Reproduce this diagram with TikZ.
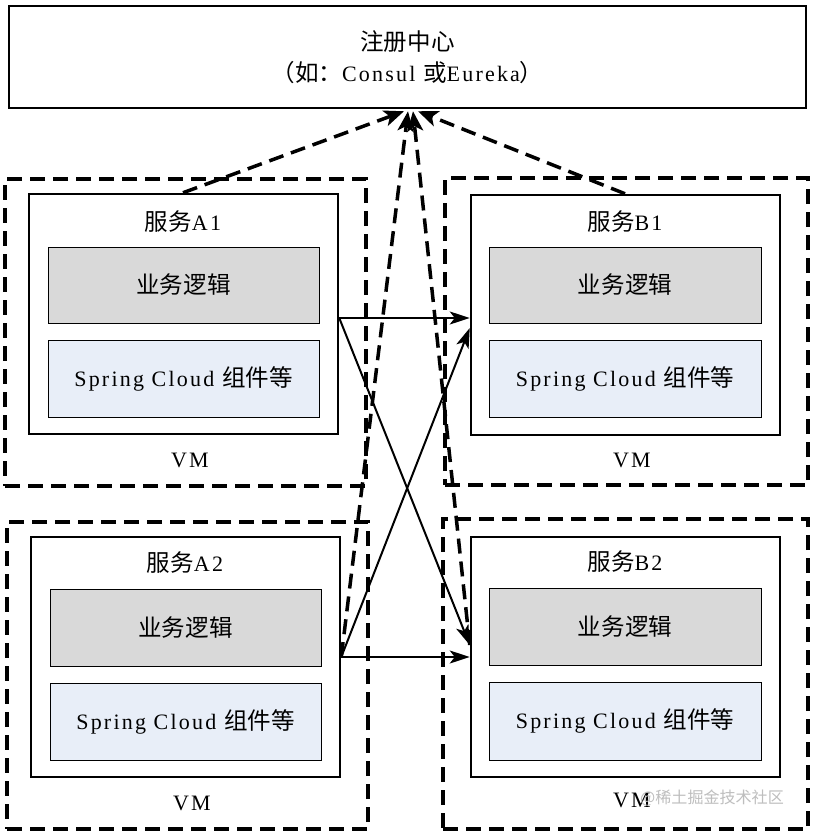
\documentclass[tikz,border=0pt]{standalone}
\usepackage{fontspec}
\setmainfont{Liberation Serif}[LetterSpace=10]
\newfontfamily\cjk{Noto Sans CJK SC}[Scale=1.07]
\usetikzlibrary{arrows.meta,calc}
\newcommand{\zh}[1]{{\cjk #1}}
\definecolor{bizgray}{RGB}{217,217,217}
\definecolor{scblue}{RGB}{232,238,248}
\definecolor{wmgray}{RGB}{190,190,190}
\begin{document}
\begin{tikzpicture}[x=1pt,y=-1pt,
  every node/.style={font=\fontsize{22}{26}\selectfont},
  vmbox/.style={draw, line width=3.5pt, dash pattern=on 15pt off 8pt, inner sep=0pt},
  svcbox/.style={draw, line width=2.5pt, fill=white, inner sep=0pt},
  bizbox/.style={draw, line width=0.8pt, fill=bizgray, inner sep=0pt},
  scbox/.style={draw, line width=0.8pt, fill=scblue, inner sep=0pt},
  lbl/.style={inner sep=0pt},
  callarrow/.style={line width=2pt, -{Stealth[length=20pt,width=13pt,inset=5pt]}},
  regarrow/.style={line width=3.5pt, dash pattern=on 15pt off 8pt, -{Stealth[length=20pt,width=16pt,inset=5pt]}}
]
\useasboundingbox (0,0) rectangle (814,832);
\fill[white] (0,0) rectangle (814,832);

% registry
\node[svcbox, minimum width=797pt, minimum height=102pt, align=center,
  font=\fontsize{22}{31}\selectfont] (reg) at (407.5,57)
  {\zh{注册中心}\\\zh{（如：}Consul \zh{或}Eureka\zh{）}};

% VM boxes
\node[vmbox, minimum width=361pt, minimum height=307pt] (vmA1) at (185.5,332.5) {};
\node[vmbox, minimum width=363pt, minimum height=307pt] (vmB1) at (626.5,331.5) {};
\node[vmbox, minimum width=361pt, minimum height=307pt] (vmA2) at (187.5,675.5) {};
\node[vmbox, minimum width=365pt, minimum height=310pt] (vmB2) at (625.5,674) {};

% service boxes
\node[svcbox, minimum width=309pt, minimum height=240pt] (A1) at (183.5,314) {};
\node[svcbox, minimum width=309pt, minimum height=240pt] (B1) at (625.5,315) {};
\node[svcbox, minimum width=309pt, minimum height=240pt] (A2) at (185.5,657) {};
\node[svcbox, minimum width=309pt, minimum height=240pt] (B2) at (625.5,657) {};

% inner boxes
\node[bizbox, minimum width=271pt, minimum height=76pt] (bizA1) at (183.5,285) {\zh{业务逻辑}};
\node[scbox, minimum width=271pt, minimum height=77pt] (scA1) at (183.5,378.5) {Spring Cloud \zh{组件等}};
\node[bizbox, minimum width=272pt, minimum height=76pt] (bizB1) at (625,285) {\zh{业务逻辑}};
\node[scbox, minimum width=272pt, minimum height=77pt] (scB1) at (625,378.5) {Spring Cloud \zh{组件等}};
\node[bizbox, minimum width=271pt, minimum height=77pt] (bizA2) at (185.5,627.5) {\zh{业务逻辑}};
\node[scbox, minimum width=271pt, minimum height=77pt] (scA2) at (185.5,721.5) {Spring Cloud \zh{组件等}};
\node[bizbox, minimum width=272pt, minimum height=77pt] (bizB2) at (625,626.5) {\zh{业务逻辑}};
\node[scbox, minimum width=272pt, minimum height=78pt] (scB2) at (625,721) {Spring Cloud \zh{组件等}};

% titles
\node[lbl] (tA1) at (183,222) {\zh{服务}A1};
\node[lbl] (tB1) at (625,222) {\zh{服务}B1};
\node[lbl] (tA2) at (185,563) {\zh{服务}A2};
\node[lbl] (tB2) at (625,562) {\zh{服务}B2};

% VM labels
\node[lbl] (lA1) at (190,460) {VM};
\node[lbl] (lB1) at (632,460) {VM};
\node[lbl] (lA2) at (192,803) {VM};
\node[lbl] (lB2) at (632,800) {VM};

% connection points
\coordinate (a1o) at ($(A1.east)+(0,4)$);
\coordinate (a2o) at (A2.east);
\coordinate (b1i) at ($(B1.west)+(0,3)$);
\coordinate (b1i2) at ($(B1.west)+(0,13)$);
\coordinate (b2i) at (B2.west);
\coordinate (b2i2) at ($(B2.west)+(0,-12)$);
\coordinate (a1top) at (A1.north -| 183,0);
\coordinate (b1top) at (B1.north -| 625,0);
\coordinate (regL) at ($(reg.south)+(-3.5,2)$);
\coordinate (regR) at ($(reg.south)+(10.5,2)$);
\coordinate (regM1) at ($(reg.south)+(0.5,2)$);
\coordinate (regM2) at ($(reg.south)+(5.5,2)$);

% calls
\draw[callarrow] (a1o) -- (b1i);
\draw[callarrow] (a1o) -- (b2i2);
\draw[callarrow] (a2o) -- (b1i2);
\draw[callarrow] (a2o) -- (b2i);

% registrations
\draw[regarrow] (a1top) -- (regL);
\draw[regarrow] (b1top) -- (regR);
\draw[regarrow] (a2o) -- (regM1);
\draw[regarrow] (b2i2) -- (regM2);

% watermark
\node[lbl, text=wmgray, font=\fontsize{15}{18}\selectfont] (wm) at (712,798) {\zh{@稀土掘金技术社区}};
\end{tikzpicture}
\end{document}
